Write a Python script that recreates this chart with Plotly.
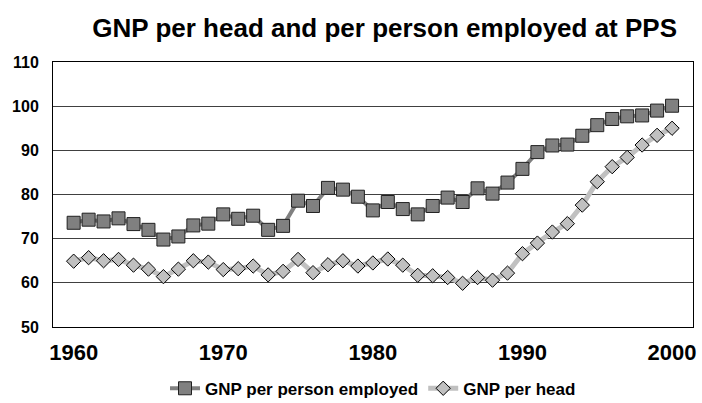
import plotly.graph_objects as go

years = list(range(1960, 2001))
gnp_per_employed = [73.6, 74.3, 73.9, 74.6, 73.3, 72.0, 69.8, 70.5, 73.0, 73.4,
                    75.5, 74.5, 75.2, 72.0, 72.9, 78.6, 77.4, 81.5, 81.1, 79.5,
                    76.4, 78.3, 76.7, 75.5, 77.4, 79.3, 78.3, 81.4, 80.2, 82.7,
                    85.8, 89.6, 91.1, 91.3, 93.3, 95.7, 97.1, 97.7, 97.9, 99.0,
                    100.1]
gnp_per_head = [64.9, 65.7, 65.0, 65.3, 64.0, 63.1, 61.4, 63.1, 65.0, 64.7,
                63.0, 63.2, 63.8, 61.8, 62.6, 65.3, 62.3, 64.1, 65.0, 63.8,
                64.5, 65.4, 64.0, 61.7, 61.6, 61.2, 59.9, 61.2, 60.6, 62.2,
                66.6, 69.0, 71.5, 73.4, 77.6, 82.9, 86.3, 88.4, 91.2, 93.4,
                95.0]
x_ticks = [1960, 1970, 1980, 1990, 2000]
y_ticks = [50, 60, 70, 80, 90, 100, 110]

FONT = "Liberation Sans, Arial, sans-serif"

fig = go.Figure()
fig.add_trace(go.Scatter(
    x=years, y=gnp_per_employed, name="<b>GNP per person employed</b>",
    mode="lines+markers",
    line=dict(color="#808080", width=4),
    marker=dict(symbol="square", size=13, color="#808080",
                line=dict(color="#202020", width=1)),
))
fig.add_trace(go.Scatter(
    x=years, y=gnp_per_head, name="<b>GNP per head</b>",
    mode="lines+markers",
    line=dict(color="#c0c0c0", width=5),
    marker=dict(symbol="diamond", size=11, color="#c0c0c0",
                line=dict(color="#000000", width=1)),
))

fig.update_layout(
    width=702, height=403,
    margin=dict(l=53, r=9, t=62, b=76, autoexpand=False),
    paper_bgcolor="white", plot_bgcolor="white",
    title=dict(text="<b>GNP per head and per person employed at PPS</b>",
               x=0.548, xanchor="center", y=0.93, yanchor="middle",
               font=dict(family=FONT, size=26, color="black")),
    font=dict(family=FONT, color="black"),
    showlegend=True,
    legend=dict(orientation="h", x=0.5, xanchor="center", y=-0.165, yanchor="top",
                font=dict(family=FONT, size=17, color="black"),
                itemwidth=30, bgcolor="rgba(0,0,0,0)"),
    xaxis=dict(range=[1958.62, 2001.4], tickmode="array", tickvals=x_ticks,
               ticktext=[f"<b>{t}</b>" for t in x_ticks],
               tickfont=dict(family=FONT, size=22, color="black"),
               showgrid=False, zeroline=False, automargin=False,
               showline=True, linecolor="black", linewidth=1, mirror=True,
               ticks="", ticklabelstandoff=6),
    yaxis=dict(range=[50, 110], tickmode="array", tickvals=y_ticks,
               ticktext=[f"<b>{t}</b>" for t in y_ticks],
               tickfont=dict(family=FONT, size=16, color="black"),
               showgrid=True, gridcolor="#404040", gridwidth=1, zeroline=False,
               automargin=False,
               showline=True, linecolor="black", linewidth=1, mirror=True,
               ticks="", ticklabelstandoff=10),
)

fig.write_html("out.html",
               config={"displayModeBar": False},
               post_script="document.body.style.margin='0';document.body.style.overflow='hidden';")
